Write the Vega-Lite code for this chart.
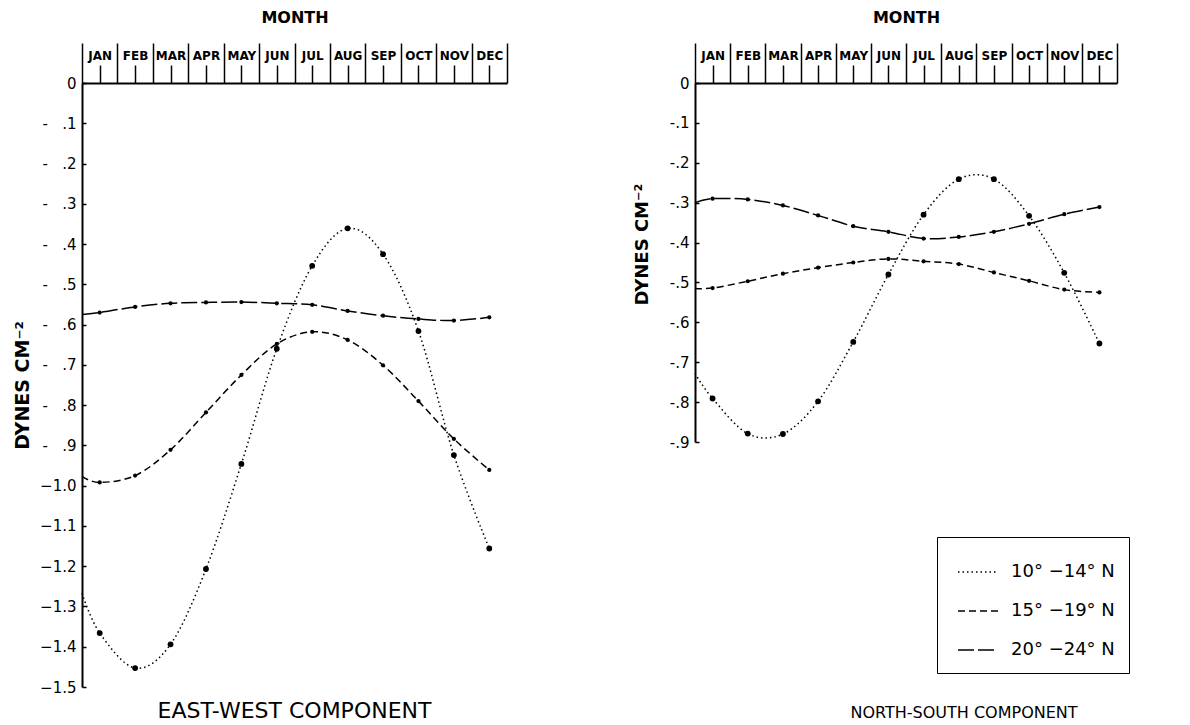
{
  "$schema": "https://vega.github.io/schema/vega-lite/v6.json",
  "padding": {"left": 13, "top": 9, "right": 10, "bottom": 0},
  "config": {"view": {"stroke": null}, "font": "DejaVu Sans", "concat": {"spacing": 125},
    "axis": {"labelOverlap": false, "labelBound": false, "labelFlush": false}, "axisY": {"labelOverlap": false}},
  "data": {"values": [
    {"panel": "EW", "series": "10° −14° N", "month": 0.5, "value": -1.267},
    {"panel": "EW", "series": "10° −14° N", "month": 1, "value": -1.366},
    {"panel": "EW", "series": "10° −14° N", "month": 2, "value": -1.453},
    {"panel": "EW", "series": "10° −14° N", "month": 3, "value": -1.394},
    {"panel": "EW", "series": "10° −14° N", "month": 4, "value": -1.207},
    {"panel": "EW", "series": "10° −14° N", "month": 5, "value": -0.946},
    {"panel": "EW", "series": "10° −14° N", "month": 6, "value": -0.66},
    {"panel": "EW", "series": "10° −14° N", "month": 7, "value": -0.454},
    {"panel": "EW", "series": "10° −14° N", "month": 8, "value": -0.361},
    {"panel": "EW", "series": "10° −14° N", "month": 9, "value": -0.425},
    {"panel": "EW", "series": "10° −14° N", "month": 10, "value": -0.616},
    {"panel": "EW", "series": "10° −14° N", "month": 11, "value": -0.924},
    {"panel": "EW", "series": "10° −14° N", "month": 12, "value": -1.156},
    {"panel": "EW", "series": "15° −19° N", "month": 0.5, "value": -0.977},
    {"panel": "EW", "series": "15° −19° N", "month": 1, "value": -0.992},
    {"panel": "EW", "series": "15° −19° N", "month": 2, "value": -0.975},
    {"panel": "EW", "series": "15° −19° N", "month": 3, "value": -0.911},
    {"panel": "EW", "series": "15° −19° N", "month": 4, "value": -0.818},
    {"panel": "EW", "series": "15° −19° N", "month": 5, "value": -0.725},
    {"panel": "EW", "series": "15° −19° N", "month": 6, "value": -0.648},
    {"panel": "EW", "series": "15° −19° N", "month": 7, "value": -0.618},
    {"panel": "EW", "series": "15° −19° N", "month": 8, "value": -0.638},
    {"panel": "EW", "series": "15° −19° N", "month": 9, "value": -0.701},
    {"panel": "EW", "series": "15° −19° N", "month": 10, "value": -0.79},
    {"panel": "EW", "series": "15° −19° N", "month": 11, "value": -0.884},
    {"panel": "EW", "series": "15° −19° N", "month": 12, "value": -0.961},
    {"panel": "EW", "series": "20° −24° N", "month": 0.5, "value": -0.575},
    {"panel": "EW", "series": "20° −24° N", "month": 1, "value": -0.57},
    {"panel": "EW", "series": "20° −24° N", "month": 2, "value": -0.556},
    {"panel": "EW", "series": "20° −24° N", "month": 3, "value": -0.547},
    {"panel": "EW", "series": "20° −24° N", "month": 4, "value": -0.545},
    {"panel": "EW", "series": "20° −24° N", "month": 5, "value": -0.544},
    {"panel": "EW", "series": "20° −24° N", "month": 6, "value": -0.547},
    {"panel": "EW", "series": "20° −24° N", "month": 7, "value": -0.551},
    {"panel": "EW", "series": "20° −24° N", "month": 8, "value": -0.566},
    {"panel": "EW", "series": "20° −24° N", "month": 9, "value": -0.578},
    {"panel": "EW", "series": "20° −24° N", "month": 10, "value": -0.586},
    {"panel": "EW", "series": "20° −24° N", "month": 11, "value": -0.59},
    {"panel": "EW", "series": "20° −24° N", "month": 12, "value": -0.582},
    {"panel": "NS", "series": "10° −14° N", "month": 0.5, "value": -0.728},
    {"panel": "NS", "series": "10° −14° N", "month": 1, "value": -0.791},
    {"panel": "NS", "series": "10° −14° N", "month": 2, "value": -0.879},
    {"panel": "NS", "series": "10° −14° N", "month": 3, "value": -0.88},
    {"panel": "NS", "series": "10° −14° N", "month": 4, "value": -0.798},
    {"panel": "NS", "series": "10° −14° N", "month": 5, "value": -0.649},
    {"panel": "NS", "series": "10° −14° N", "month": 6, "value": -0.48},
    {"panel": "NS", "series": "10° −14° N", "month": 7, "value": -0.33},
    {"panel": "NS", "series": "10° −14° N", "month": 8, "value": -0.241},
    {"panel": "NS", "series": "10° −14° N", "month": 9, "value": -0.241},
    {"panel": "NS", "series": "10° −14° N", "month": 10, "value": -0.333},
    {"panel": "NS", "series": "10° −14° N", "month": 11, "value": -0.476},
    {"panel": "NS", "series": "10° −14° N", "month": 12, "value": -0.653},
    {"panel": "NS", "series": "15° −19° N", "month": 0.5, "value": -0.515},
    {"panel": "NS", "series": "15° −19° N", "month": 1, "value": -0.514},
    {"panel": "NS", "series": "15° −19° N", "month": 2, "value": -0.497},
    {"panel": "NS", "series": "15° −19° N", "month": 3, "value": -0.478},
    {"panel": "NS", "series": "15° −19° N", "month": 4, "value": -0.463},
    {"panel": "NS", "series": "15° −19° N", "month": 5, "value": -0.45},
    {"panel": "NS", "series": "15° −19° N", "month": 6, "value": -0.441},
    {"panel": "NS", "series": "15° −19° N", "month": 7, "value": -0.447},
    {"panel": "NS", "series": "15° −19° N", "month": 8, "value": -0.454},
    {"panel": "NS", "series": "15° −19° N", "month": 9, "value": -0.475},
    {"panel": "NS", "series": "15° −19° N", "month": 10, "value": -0.496},
    {"panel": "NS", "series": "15° −19° N", "month": 11, "value": -0.518},
    {"panel": "NS", "series": "15° −19° N", "month": 12, "value": -0.525},
    {"panel": "NS", "series": "20° −24° N", "month": 0.5, "value": -0.3},
    {"panel": "NS", "series": "20° −24° N", "month": 1, "value": -0.29},
    {"panel": "NS", "series": "20° −24° N", "month": 2, "value": -0.292},
    {"panel": "NS", "series": "20° −24° N", "month": 3, "value": -0.307},
    {"panel": "NS", "series": "20° −24° N", "month": 4, "value": -0.332},
    {"panel": "NS", "series": "20° −24° N", "month": 5, "value": -0.359},
    {"panel": "NS", "series": "20° −24° N", "month": 6, "value": -0.373},
    {"panel": "NS", "series": "20° −24° N", "month": 7, "value": -0.39},
    {"panel": "NS", "series": "20° −24° N", "month": 8, "value": -0.386},
    {"panel": "NS", "series": "20° −24° N", "month": 9, "value": -0.373},
    {"panel": "NS", "series": "20° −24° N", "month": 10, "value": -0.353},
    {"panel": "NS", "series": "20° −24° N", "month": 11, "value": -0.329},
    {"panel": "NS", "series": "20° −24° N", "month": 12, "value": -0.311}
  ]},
  "hconcat": [
    {
      "width": 425, "height": 604,
      "transform": [{"filter": "datum.panel == 'EW'"}],
      "title": {"text": "EAST-WEST COMPONENT", "orient": "bottom", "fontSize": 22, "fontWeight": "normal", "offset": 6, "color": "black"},
      "layer": [
        {
          "mark": {"type": "line", "interpolate": "cardinal", "color": "black", "strokeWidth": 1.5},
          "encoding": {
            "x": {"field": "month", "type": "quantitative", "scale": {"domain": [0.5, 12.5], "nice": false, "zero": false},
              "axis": {"orient": "top", "values": [1,2,3,4,5,6,7,8,9,10,11,12], "tickCount": 30,
                "labelExpr": "['JAN','FEB','MAR','APR','MAY','JUN','JUL','AUG','SEP','OCT','NOV','DEC'][datum.value - 1]",
                "tickSize": 18, "tickWidth": 1.5, "tickColor": "black", "labelPadding": 3, "labelFontSize": 12, "labelFontWeight": "bold", "labelColor": "black", "labelOverlap": false,
                "domain": true, "domainWidth": 2, "domainColor": "black", "grid": false,
                "title": "MONTH", "titleFontSize": 16, "titleFontWeight": "bold", "titleColor": "black", "titlePadding": 24}},
            "y": {"field": "value", "type": "quantitative", "scale": {"domain": [-1.5, 0], "nice": false},
              "axis": {"values": [0,-0.1,-0.2,-0.3,-0.4,-0.5,-0.6,-0.7,-0.8,-0.9,-1.0,-1.1,-1.2,-1.3,-1.4,-1.5], "tickCount": 30,
                "labelExpr": "datum.value == 0 ? '0' : (datum.value > -0.95 ? '-\u00a0\u00a0 ' + replace(format(-datum.value, '.1f'), '0.', '.') : format(datum.value, '.1f'))",
                "labelFontSize": 15, "labelColor": "black", "tickSize": -4, "tickColor": "black", "tickWidth": 1.5, "labelPadding": 10, "labelOverlap": false, "labelFlush": false,
                "domainWidth": 2, "domainColor": "black", "grid": false,
                "title": "DYNES CM⁻²", "titleFontSize": 19, "titleFontWeight": "bold", "titleColor": "black", "titleX": -50}},
            "strokeDash": {"field": "series", "type": "nominal",
              "scale": {"domain": ["10° −14° N", "15° −19° N", "20° −24° N"], "range": [[1.5, 3], [7, 4], [16, 4]]},
              "legend": {"orient": "none", "legendX": 855, "legendY": 454, "title": null, "strokeColor": "black", "padding": 14,
                "symbolType": "stroke", "symbolSize": 1600, "symbolStrokeWidth": 1.5, "symbolStrokeColor": "black", "symbolOffset": 6,
                "labelFontSize": 18, "labelColor": "black", "labelOffset": 12, "rowPadding": 9}}
          }
        },
        {
          "transform": [{"filter": "datum.month >= 1"}],
          "mark": {"type": "point", "filled": true, "color": "black", "opacity": 1},
          "encoding": {
            "x": {"field": "month", "type": "quantitative",
              "axis": {"orient": "top", "values": [0.5,1.5,2.5,3.5,4.5,5.5,6.5,7.5,8.5,9.5,10.5,11.5,12.5], "tickCount": 30, "labels": false, "tickSize": 40, "tickWidth": 1.5, "tickColor": "black", "domain": false, "grid": false, "title": null}},
            "y": {"field": "value", "type": "quantitative"},
            "size": {"condition": {"test": "datum.series == '10° −14° N'", "value": 34}, "value": 18}
          }
        }
      ],
      "resolve": {"axis": {"x": "independent"}}
    },
    {
      "width": 422, "height": 359,
      "transform": [{"filter": "datum.panel == 'NS'"}],
      "title": {"text": "NORTH-SOUTH COMPONENT", "orient": "bottom", "fontSize": 16, "fontWeight": "normal", "offset": 255, "dx": 58, "color": "black"},
      "layer": [
        {
          "mark": {"type": "line", "interpolate": "cardinal", "color": "black", "strokeWidth": 1.5},
          "encoding": {
            "x": {"field": "month", "type": "quantitative", "scale": {"domain": [0.5, 12.5], "nice": false, "zero": false},
              "axis": {"orient": "top", "values": [1,2,3,4,5,6,7,8,9,10,11,12], "tickCount": 30,
                "labelExpr": "['JAN','FEB','MAR','APR','MAY','JUN','JUL','AUG','SEP','OCT','NOV','DEC'][datum.value - 1]",
                "tickSize": 18, "tickWidth": 1.5, "tickColor": "black", "labelPadding": 3, "labelFontSize": 12, "labelFontWeight": "bold", "labelColor": "black", "labelOverlap": false,
                "domain": true, "domainWidth": 2, "domainColor": "black", "grid": false,
                "title": "MONTH", "titleFontSize": 16, "titleFontWeight": "bold", "titleColor": "black", "titlePadding": 24}},
            "y": {"field": "value", "type": "quantitative", "scale": {"domain": [-0.9, 0], "nice": false},
              "axis": {"values": [0,-0.1,-0.2,-0.3,-0.4,-0.5,-0.6,-0.7,-0.8,-0.9], "tickCount": 30,
                "labelExpr": "datum.value == 0 ? '0' : ('-' + replace(format(-datum.value, '.1f'), '0.', '.'))",
                "labelFontSize": 15, "labelColor": "black", "tickSize": -4, "tickColor": "black", "tickWidth": 1.5, "labelPadding": 10, "labelOverlap": false, "labelFlush": false,
                "domainWidth": 2, "domainColor": "black", "grid": false,
                "title": "DYNES CM⁻²", "titleFontSize": 18, "titleFontWeight": "bold", "titleColor": "black", "titleX": -44, "titleY": 161}},
            "strokeDash": {"field": "series", "type": "nominal"}
          }
        },
        {
          "transform": [{"filter": "datum.month >= 1"}],
          "mark": {"type": "point", "filled": true, "color": "black", "opacity": 1},
          "encoding": {
            "x": {"field": "month", "type": "quantitative",
              "axis": {"orient": "top", "values": [0.5,1.5,2.5,3.5,4.5,5.5,6.5,7.5,8.5,9.5,10.5,11.5,12.5], "tickCount": 30, "labels": false, "tickSize": 40, "tickWidth": 1.5, "tickColor": "black", "domain": false, "grid": false, "title": null}},
            "y": {"field": "value", "type": "quantitative"},
            "size": {"condition": {"test": "datum.series == '10° −14° N'", "value": 34}, "value": 18}
          }
        }
      ],
      "resolve": {"axis": {"x": "independent"}}
    }
  ]
}
